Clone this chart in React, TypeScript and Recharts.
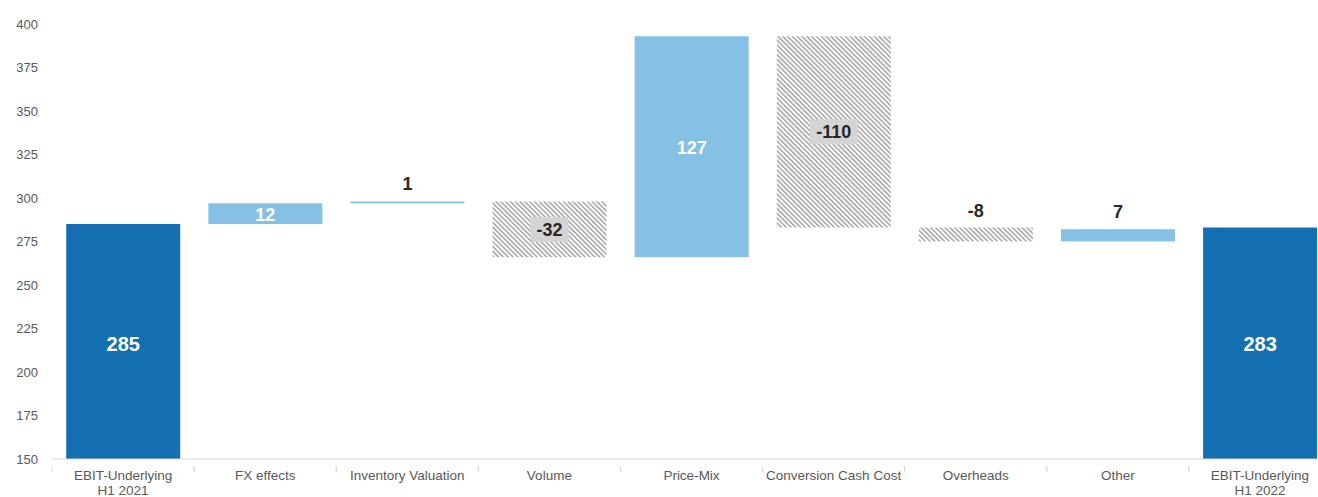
import { Bar, BarChart, Cell, LabelList, XAxis, YAxis } from 'recharts'

const categories = [
  'EBIT-Underlying\nH1 2021',
  'FX effects',
  'Inventory Valuation',
  'Volume',
  'Price-Mix',
  'Conversion Cash Cost',
  'Overheads',
  'Other',
  'EBIT-Underlying\nH1 2022',
]
const deltas = [285, 12, 1, -32, 127, -110, -8, 7, 283]
const isTotal = [true, false, false, false, false, false, false, false, true]
const yTicks = [150, 175, 200, 225, 250, 275, 300, 325, 350, 375, 400]

const TOTAL = '#1570b1'
const UP = '#84c1e4'

let running = 0
const data = categories.map((name, i) => {
  let range: [number, number]
  if (isTotal[i]) {
    range = [0, deltas[i]]
    running = deltas[i]
  } else {
    const next = running + deltas[i]
    range = [Math.min(running, next), Math.max(running, next)]
    running = next
  }
  return { name, range, delta: deltas[i], total: isTotal[i] }
})

const XTick = (props: any) => {
  const { x, y, payload } = props
  const lines = String(payload.value).split('\n')
  return (
    <g>
      <line x1={x - 71} x2={x - 71} y1={y - 1} y2={y + 5} stroke="#d9d9d9" />
      <line x1={x + 71} x2={x + 71} y1={y - 1} y2={y + 5} stroke="#d9d9d9" />
      {lines.map((l, k) => (
        <text key={k} x={x} y={y + 13 + k * 15} textAnchor="middle" fill="#595959" fontSize={13.5}>
          {l}
        </text>
      ))}
    </g>
  )
}

const BarLabel = (props: any) => {
  const { x, y, width, height, index } = props
  const d = data[index]
  const cx = x + width / 2
  const h = Math.abs(height)
  const top = Math.min(y, y + height)
  const txt = String(d.delta)
  if (!d.total && h < 18) {
    return (
      <text x={cx} y={top - 11} textAnchor="middle" fill="#262626" fontSize={18} fontWeight="bold">
        {txt}
      </text>
    )
  }
  let cy = top + h / 2
  if (d.total) {
    cy = Math.min(cy, 344)
  }
  if (d.delta < 0 && !d.total) {
    const w = txt.length * 10 + 8
    return (
      <g>
        <rect x={cx - w / 2} y={cy - 12.5} width={w} height={25} fill="#d4d4d4" />
        <text x={cx} y={cy + 6.5} textAnchor="middle" fill="#262626" fontSize={18} fontWeight="bold">
          {txt}
        </text>
      </g>
    )
  }
  return (
    <text x={cx} y={cy + 7} textAnchor="middle" fill="#ffffff" fontSize={d.total ? 20 : 18} fontWeight="bold">
      {txt}
    </text>
  )
}

export default function App() {
  return (
    <div style={{ position: 'absolute', left: 0, top: 0, width: 1318, height: 497, overflow: 'hidden', fontFamily: 'Liberation Sans, Arial, sans-serif' }}>
      <BarChart
        width={1331}
        height={497}
        data={data}
        margin={{ top: 24, right: 0, left: 0, bottom: 0 }}
        barCategoryGap="10%"
      >
        <defs>
          <pattern id="hatch" patternUnits="userSpaceOnUse" width="3.4" height="3.4" patternTransform="rotate(-45)">
            <rect width="3.4" height="3.4" fill="#ffffff" />
            <line x1="0" y1="0" x2="0" y2="3.4" stroke="#a3a3a3" strokeWidth="3" />
          </pattern>
        </defs>
        <XAxis
          dataKey="name"
          height={38}
          interval={0}
          tick={<XTick />}
          tickLine={false}
          axisLine={{ stroke: '#d9d9d9' }}
        />
        <YAxis
          width={52}
          domain={[150, 400]}
          ticks={yTicks}
          allowDataOverflow
          axisLine={false}
          tickLine={false}
          tickSize={0}
          tickMargin={14}
          tick={{ fill: '#595959', fontSize: 13 }}
        />
        <Bar dataKey="range" isAnimationActive={false}>
          {data.map((d, i) => (
            <Cell key={i} fill={d.total ? TOTAL : d.delta >= 0 ? UP : 'url(#hatch)'} />
          ))}
          <LabelList dataKey="delta" content={<BarLabel />} />
        </Bar>
      </BarChart>
    </div>
  )
}
